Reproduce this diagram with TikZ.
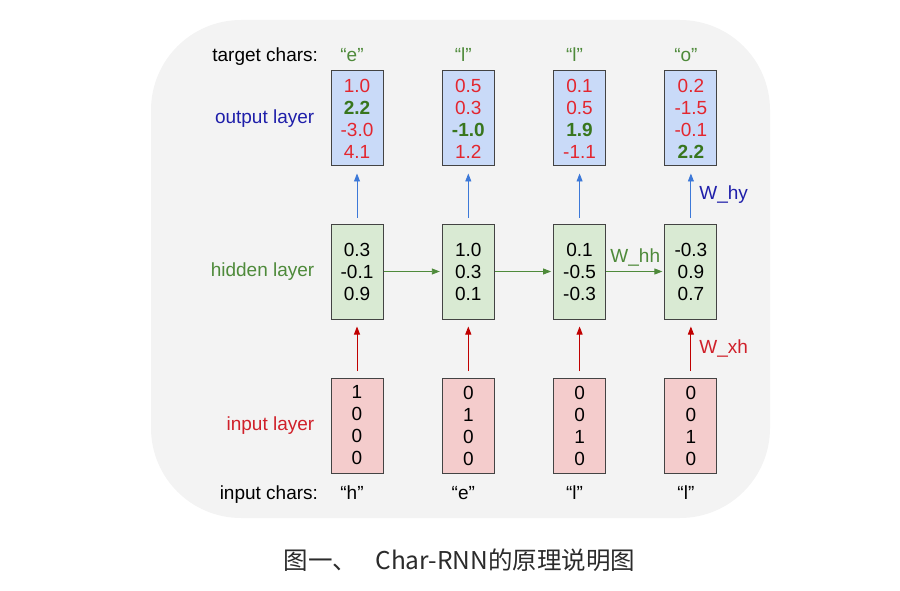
\documentclass[tikz,border=0pt]{standalone}
\usepackage{fontspec}
\setmainfont{Liberation Sans}
\newfontfamily\cjk{Noto Sans CJK SC}
\usepackage{xcolor}
\usepackage{tikz}
\usetikzlibrary{arrows.meta, positioning}

\definecolor{bggray}{HTML}{F3F3F3}
\definecolor{edgegray}{HTML}{434343}
\definecolor{outfill}{HTML}{C9DAF8}
\definecolor{hidfill}{HTML}{D9EAD3}
\definecolor{infill}{HTML}{F4CCCC}
\definecolor{valred}{HTML}{E3262F}
\definecolor{valgreen}{HTML}{38761D}
\definecolor{lblblue}{HTML}{1F1FAA}
\definecolor{lblgreen}{HTML}{4E8A3A}
\definecolor{lblred}{HTML}{D0202A}
\definecolor{arrblue}{HTML}{3C78D8}
\definecolor{arrred}{HTML}{C00000}
\definecolor{captgray}{HTML}{2B2B2B}

\newcommand{\best}[1]{\textcolor{valgreen}{\textbf{#1}}}

\begin{document}
\begin{tikzpicture}[
    x=1pt, y=-1pt,
    node distance=57pt and 58.3pt,
    cell/.style={draw=edgegray, line width=1pt, minimum width=52pt, minimum height=95pt, inner sep=0pt, align=center, font=\fontsize{19}{22}\selectfont},
    outbox/.style={cell, fill=outfill, text=valred},
    hidbox/.style={cell, fill=hidfill},
    inbox/.style={cell, fill=infill},
    lbl/.style={inner sep=0pt, font=\fontsize{19}{22}\selectfont, text height=14pt, text depth=4pt},
    chr/.style={lbl, xshift=-5pt},
    arrow/.style={-{Triangle[length=8pt, width=6pt]}, line width=0.9pt},
    yarrow/.style={arrow, arrblue, shorten <=6pt, shorten >=7pt},
    harrow/.style={arrow, lblgreen, shorten >=2pt},
    xarrow/.style={arrow, arrred, shorten <=6.5pt, shorten >=7pt}
]
\useasboundingbox (0,0) rectangle (900,591);
\fill[bggray, rounded corners=90pt] (151,20) rectangle (770,518);

% hidden layer
\node[hidbox] (h1) at (357,271.5) {0.3\\-0.1\\0.9};
\node[hidbox, right=of h1] (h2) {1.0\\0.3\\0.1};
\node[hidbox, right=of h2] (h3) {0.1\\-0.5\\-0.3};
\node[hidbox, right=of h3] (h4) {-0.3\\0.9\\0.7};

% output layer
\node[outbox, above=of h1] (y1) {1.0\\\best{2.2}\\-3.0\\4.1};
\node[outbox, above=of h2] (y2) {0.5\\0.3\\\best{-1.0}\\1.2};
\node[outbox, above=of h3] (y3) {0.1\\0.5\\\best{1.9}\\-1.1};
\node[outbox, above=of h4] (y4) {0.2\\-1.5\\-0.1\\\best{2.2}};

% input layer
\node[inbox, below=58pt of h1] (x1) {1\\0\\0\\0};
\node[inbox, below=58pt of h2] (x2) {0\\1\\0\\0};
\node[inbox, below=58pt of h3] (x3) {0\\0\\1\\0};
\node[inbox, below=58pt of h4] (x4) {0\\0\\1\\0};

% characters
\node[chr, text=lblgreen, above=5pt of y1] (t1) {“e”};
\node[chr, text=lblgreen, above=5pt of y2] (t2) {“l”};
\node[chr, text=lblgreen, above=5pt of y3] (t3) {“l”};
\node[chr, text=lblgreen, above=5pt of y4] (t4) {“o”};
\node[chr, below=12pt of x1] (c1) {“h”};
\node[chr, below=12pt of x2] (c2) {“e”};
\node[chr, below=12pt of x3] (c3) {“l”};
\node[chr, below=12pt of x4] (c4) {“l”};

% row labels
\node[lbl, left=22pt of t1] (tgtlbl) {target chars:};
\node[lbl, left=22pt of c1] (inplbl) {input chars:};
\node[lbl, text=lblblue, left=16pt of y1] (outlbl) {output layer};
\node[lbl, text=lblgreen, left=16pt of h1] (hidlbl) {hidden layer};
\node[lbl, text=lblred, left=16pt of x1] (inlbl) {input layer};

\draw[yarrow] (h1) -- (y1);
\draw[yarrow] (h2) -- (y2);
\draw[yarrow] (h3) -- (y3);
\draw[yarrow] (h4) -- node[lbl, text=lblblue, right=8pt] (why) {W\_hy} (y4);
\draw[harrow] (h1) -- (h2);
\draw[harrow] (h2) -- (h3);
\draw[harrow] (h3) -- node[lbl, text=lblgreen, above=5pt] (whh) {W\_hh} (h4);
\draw[xarrow] (x1) -- (h1);
\draw[xarrow] (x2) -- (h2);
\draw[xarrow] (x3) -- (h3);
\draw[xarrow] (x4) -- node[lbl, text=lblred, right=8pt] (wxh) {W\_xh} (h4);

\node[font=\cjk\fontsize{24.5}{28}\selectfont, text=captgray] (caption) at (459.5,560) {图一、\hspace{18pt}Char-RNN的原理说明图};
\end{tikzpicture}
\end{document}
